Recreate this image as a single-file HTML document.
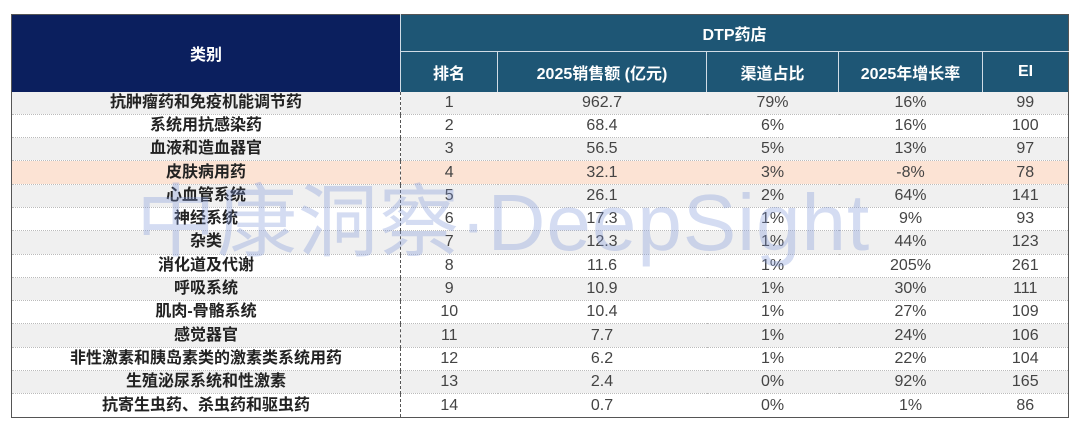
<!DOCTYPE html>
<html><head><meta charset="utf-8">
<style>
html,body{margin:0;padding:0;background:#fff;width:1080px;height:434px;overflow:hidden;}
body{font-family:"Liberation Sans","Noto Sans CJK SC",sans-serif;position:relative;}
table{position:absolute;left:11px;top:14px;width:1057px;border-collapse:collapse;table-layout:fixed;border:1px solid #555;}
th{color:#fff;font-weight:bold;font-size:16px;padding:0;text-align:center;}
th.cat{background:#0b1f5e;}
th.dtp{background:#1e5675;border-left:1px solid #d0dce6;border-bottom:1px solid #d0dce6;}
th.sub{background:#1e5675;border-left:1px solid #d0dce6;}
td{padding:0;height:22.3px;font-size:16px;text-align:center;color:#444;line-height:22px;border-bottom:1px dotted #bbb;white-space:nowrap;overflow:hidden;}
td.name{font-weight:bold;color:#222;border-right:1px dashed #555;}
tr.odd td{background:#f0f0f0;}
tr.even td{background:#fff;}
tr.hl td{background:#fce3d4;}
.wm{position:absolute;left:136px;top:178px;font-size:80px;color:rgba(120,145,215,0.32);letter-spacing:1px;pointer-events:none;white-space:nowrap;line-height:90px;}
</style></head><body>
<table>
<colgroup><col style="width:389px"><col style="width:97px"><col style="width:209px"><col style="width:132px"><col style="width:144px"><col style="width:86px"></colgroup>
<thead>
<tr style="height:37px"><th class="cat" rowspan="2">类别</th><th class="dtp" colspan="5">DTP药店</th></tr>
<tr style="height:40px">
<th class="sub">排名</th>
<th class="sub">2025销售额 (亿元)</th>
<th class="sub">渠道占比</th>
<th class="sub">2025年增长率</th>
<th class="sub">EI</th></tr>
</thead>
<tbody id="tb"></tbody>
</table>
<div class="wm">中康洞察·DeepSight</div>
<script>
const names=["抗肿瘤药和免疫机能调节药","系统用抗感染药","血液和造血器官","皮肤病用药","心血管系统","神经系统","杂类","消化道及代谢","呼吸系统","肌肉-骨骼系统","感觉器官","非性激素和胰岛素类的激素类系统用药","生殖泌尿系统和性激素","抗寄生虫药、杀虫药和驱虫药"];
const sales=["962.7","68.4","56.5","32.1","26.1","17.3","12.3","11.6","10.9","10.4","7.7","6.2","2.4","0.7"];
const share=["79%","6%","5%","3%","2%","1%","1%","1%","1%","1%","1%","1%","0%","0%"];
const growth=["16%","16%","13%","-8%","64%","9%","44%","205%","30%","27%","24%","22%","92%","1%"];
const ei=["99","100","97","78","141","93","123","261","111","109","106","104","165","86"];
const tb=document.getElementById('tb');
names.forEach((n,i)=>{
  const tr=document.createElement('tr');
  tr.className=i===3?'hl':(i%2===0?'odd':'even');
  
  
  const vals=[n,String(i+1),sales[i],share[i],growth[i],ei[i]];
  const keys=['category','rank','sales','share','growth','ei'];
  vals.forEach((v,j)=>{
    const td=document.createElement('td');
    if(j===0)td.className='name';
    td.textContent=v;
    
    
    tr.appendChild(td);
  });
  tb.appendChild(tr);
});
</script>
</body></html>
